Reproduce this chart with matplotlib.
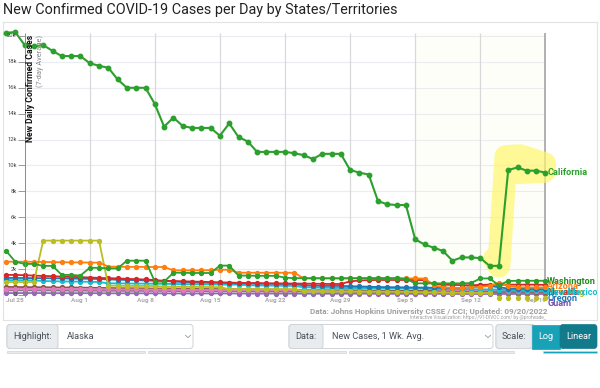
import numpy as np
import pandas as pd
import matplotlib

matplotlib.use("Agg")
import matplotlib.pyplot as plt
import matplotlib.patches as mpatches

plt.rcParams["font.family"] = ["Roboto", "DejaVu Sans"]

# daily 7-day avg new cases, thousands, Jul 23 .. Sep 19 2022
START = "2022-07-23"
california = [20.25, 20.3, 19.3, 19.2, 19.3, 18.85, 18.45, 18.45, 18.45, 17.9,
              17.7, 17.55, 16.65, 16.0, 16.0, 16.0, 14.75, 13.0, 13.7, 13.05,
              12.9, 12.9, 12.9, 12.3, 13.25, 12.2, 11.85, 11.05, 11.05, 11.05,
              11.05, 10.95, 10.8, 10.5, 10.9, 10.9, 10.9, 9.65, 9.45, 9.3,
              7.25, 7.0, 6.95, 6.95, 4.3, 3.9, 3.65, 3.4, 2.65, 2.9,
              2.9, 2.85, 2.25, 2.25, 9.65, 9.85, 9.6, 9.6, 9.45]
washington = [3.42, 2.57, 2.4, 2.4, 2.25, 2.25, 1.55, 1.55, 1.5, 2.1,
              2.1, 2.05, 2.05, 2.65, 2.65, 2.65, 1.03, 1.03, 1.72, 1.72,
              1.7, 1.7, 1.7, 2.27, 2.27, 1.5, 1.5, 1.48, 1.48, 1.48,
              1.34, 1.3, 1.3, 1.3, 1.29, 1.29, 1.29, 1.3, 1.3, 1.3,
              1.3, 1.3, 1.3, 1.25, 0.9, 0.9, 0.9, 0.9, 0.9, 0.9,
              0.92, 1.28, 1.28, 0.75, 1.08, 1.1, 1.1, 1.1, 1.1]
arizona = [2.58, 2.57, 2.57, 2.56, 2.55, 2.54, 2.53, 2.52, 2.52, 2.5,
           2.5, 2.2, 2.18, 2.17, 2.17, 2.17, 2.16, 2.16, 1.9, 1.9,
           1.9, 1.9, 1.92, 1.95, 1.95, 1.72, 1.72, 1.72, 1.72, 1.72,
           1.72, 1.72, 1.28, 1.28, 1.29, 1.29, 1.28, 1.28, 1.29, 1.29,
           1.29, 1.28, 1.28, 1.28, 1.28, 1.27, 0.75, 0.6, 0.55, 0.55,
           0.6, 0.62, 0.7, 0.95, 0.7, 0.6, 0.58, 0.58, 0.58]
wyoming = [1.0, 1.0, 1.0, 1.0, 4.2, 4.2, 4.2, 4.2, 4.2, 4.2,
           4.2, 0.72, 0.72, 0.7, 0.7, 0.7, 0.7, 0.64, 0.64, 0.63,
           0.63, 0.62, 0.62, 0.6, 0.45, 0.45, 0.45, 0.45, 0.45, 0.45,
           0.45, 0.45, 0.3, 0.3, 0.3, 0.28, 0.28, 0.28, 0.27, 0.27,
           0.26, 0.25, 0.25, 0.24, 0.22, 0.2, 0.2, 0.2, 0.18, 0.18,
           0.17, 0.16, 0.15, -0.2, -0.2, -0.2, -0.2, -0.2, -0.2]
nevada = [1.55, 1.55, 1.53, 1.5, 1.47, 1.45, 1.42, 1.4, 1.38, 1.35,
          1.32, 1.3, 1.28, 1.25, 1.22, 1.2, 1.15, 1.1, 1.08, 1.06,
          1.04, 1.02, 1.0, 0.98, 0.96, 0.94, 0.93, 0.92, 0.9, 0.9,
          0.89, 0.88, 0.88, 0.87, 0.86, 0.85, 0.85, 1.05, 1.12, 1.15,
          1.16, 1.16, 1.16, 1.16, 1.16, 1.15, 0.85, 0.8, 0.78, 0.76,
          0.75, 0.78, 0.8, 0.78, 0.8, 0.8, 0.8, 0.8, 0.78]
oregon = [1.32, 1.32, 1.31, 1.3, 1.3, 1.29, 1.28, 1.27, 1.26, 1.25,
          1.24, 1.2, 1.18, 1.16, 1.15, 1.12, 1.1, 1.08, 1.04, 1.0,
          0.98, 0.96, 0.95, 0.94, 0.92, 0.9, 0.89, 0.88, 0.87, 0.86,
          0.85, 0.84, 0.75, 0.72, 0.7, 0.7, 0.7, 0.68, 0.66, 0.64,
          0.62, 0.6, 0.6, 0.58, 0.58, 0.57, 0.56, 0.56, 0.55, 0.55,
          0.6, 0.75, 0.7, 0.6, 0.5, 0.48, 0.47, 0.46, 0.45]
new_mexico = [1.15, 1.15, 1.14, 1.13, 1.08, 1.06, 1.05, 1.04, 1.03, 1.02,
              1.0, 0.9, 0.9, 0.89, 0.88, 0.88, 0.87, 0.86, 0.85, 0.84,
              0.83, 0.82, 0.82, 0.81, 0.8, 0.8, 0.75, 0.74, 0.73, 0.72,
              0.71, 0.7, 0.6, 0.58, 0.56, 0.55, 0.55, 0.55, 0.54, 0.53,
              0.52, 0.52, 0.51, 0.5, 0.5, 0.49, 0.48, 0.47, 0.46, 0.45,
              0.44, 0.44, 0.43, 0.42, 0.4, 0.38, 0.36, 0.35, 0.34]
hawaii = [0.48, 0.48, 0.47, 0.47, 0.46, 0.46, 0.45, 0.45, 0.45, 0.44,
          0.44, 0.44, 0.43, 0.43, 0.43, 0.42, 0.42, 0.42, 0.41, 0.41,
          0.41, 0.4, 0.4, 0.4, 0.4, 0.4, 0.39, 0.39, 0.39, 0.38,
          0.38, 0.38, 0.38, 0.38, 0.38, 0.4, 0.45, 0.55, 0.56, 0.56,
          0.56, 0.56, 0.56, 0.56, 0.55, 0.55, 0.42, 0.4, 0.38, 0.37,
          0.36, 0.36, 0.35, 0.35, 0.34, 0.34, 0.33, 0.33, 0.33]
utah = [0.62, 0.62, 0.61, 0.6, 0.6, 0.59, 0.58, 0.58, 0.57, 0.56,
        0.55, 0.54, 0.53, 0.52, 0.52, 0.51, 0.5, 0.5, 0.49, 0.48,
        0.48, 0.47, 0.46, 0.46, 0.45, 0.44, 0.44, 0.43, 0.42, 0.42,
        0.41, 0.4, 0.4, 0.39, 0.38, 0.38, 0.37, 0.36, 0.36, 0.35,
        0.35, 0.34, 0.34, 0.33, 0.33, 0.32, 0.32, 0.31, 0.31, 0.3,
        0.3, 0.3, 0.29, 0.29, 0.28, 0.28, 0.28, 0.27, 0.27]
idaho = [0.36, 0.36, 0.36, 0.35, 0.35, 0.35, 0.34, 0.34, 0.34, 0.33,
         0.33, 0.33, 0.32, 0.32, 0.32, 0.31, 0.31, 0.31, 0.3, 0.3,
         0.3, 0.3, 0.29, 0.29, 0.29, 0.28, 0.28, 0.28, 0.27, 0.27,
         0.27, 0.26, 0.26, 0.26, 0.25, 0.25, 0.25, 0.24, 0.24, 0.24,
         0.23, 0.23, 0.23, 0.22, 0.22, 0.22, 0.21, 0.21, 0.21, 0.2,
         0.2, 0.2, 0.2, 0.19, 0.19, 0.19, 0.18, 0.18, 0.18]
guam = [0.15, 0.15, 0.15, 0.15, 0.15, 0.14, 0.14, 0.14, 0.14, 0.14,
        0.14, 0.13, 0.13, 0.13, 0.13, 0.13, 0.13, 0.13, 0.12, 0.12,
        0.12, 0.12, 0.12, 0.12, 0.12, 0.11, 0.11, 0.11, 0.11, 0.11,
        0.11, 0.11, 0.1, 0.1, 0.1, 0.1, 0.1, 0.1, 0.1, 0.1,
        0.09, 0.09, 0.09, 0.09, 0.09, 0.09, 0.09, 0.09, 0.08, 0.08,
        0.08, 0.08, 0.08, 0.08, 0.08, 0.08, 0.08, 0.08, 0.08]

# drawing order: bottom first, California on top
series = [
    ("Guam", guam, "#9467bd"),
    ("Idaho", idaho, "#7f7f7f"),
    ("Utah", utah, "#8c564b"),
    ("Hawaii", hawaii, "#e377c2"),
    ("New Mexico", new_mexico, "#17becf"),
    ("Oregon", oregon, "#1f77b4"),
    ("Nevada", nevada, "#d62728"),
    ("Wyoming", wyoming, "#bcbd22"),
    ("Arizona", arizona, "#ff7f0e"),
    ("Washington", washington, "#2ca02c"),
    ("California", california, "#2ca02c"),
]
# end-of-line labels (name, colour, label height in k after collision shifting)
end_labels = [
    ("California", "#2ca02c", 9.45),
    ("Washington", "#1e8c1e", 1.08),
    ("Arizona", "#ff7f0e", 0.62),
    ("Wyoming", "#bcbd22", 0.18),
    ("Nevada", "#d62728", 0.18),
    ("New Mexico", "#17becf", 0.18),
    ("Oregon", "#1f77b4", -0.25),
    ("Guam", "#7b4fb0", -0.64),
]
y_ticks = [0, 2, 4, 6, 8, 10, 12, 14, 16, 18, 20]
# hand-drawn yellow marker stroke (days since start, k cases)
hl_days = [52.5, 53.0, 53.76, 55.3, 57.9, 57.9, 55.2]
hl_vals = [2.78, 2.24, 10.7, 10.75, 10.15, 9.55, 9.45]

dates = pd.date_range(START, periods=len(california))
week_days = list(range(2, len(california), 7))  # Jul 25 ... Sep 19

fig = plt.figure(figsize=(6, 3.88), dpi=100)
W, H = 600, 388

# main chart box (pixel frame 3..597 x 22..320)
ax = fig.add_axes([3 / W, 1 - 320 / H, 594 / W, 298 / H])
ax.set_xlim((3 - 6) / 9.3, (597 - 6) / 9.3)
ax.set_ylim((295 - 320) / 12.95, (295 - 22) / 12.95)
ax.set_xticks([])
ax.set_yticks([])
for s in ax.spines.values():
    s.set_color("#e2e2e2")
    s.set_linewidth(0.8)

y_lo, y_hi = (295 - 297) / 12.95, (295 - 33) / 12.95
last = week_days[-1]
ax.fill_between([44, last], y_lo, y_hi, color="#fefef9", zorder=0, lw=0)
ax.hlines(y_ticks[1:], week_days[0], last, color="#ebebf2", lw=0.8, zorder=1)
ax.vlines(week_days[1:-1], y_lo, y_hi, color="#d9d9d9", lw=0.9, zorder=1)
ax.vlines([last], y_lo, y_hi, color="#b0b0b0", lw=1.4, zorder=1)
ax.vlines([week_days[0]], y_lo, y_hi, color="#8a8a8a", lw=0.7, zorder=6)
ax.hlines(y_ticks, week_days[0] - 0.75, week_days[0], color="#8a8a8a", lw=0.6, zorder=6)
for v in y_ticks:
    ax.text(week_days[0] - 0.85, v, f"{v}k" if v else "0", ha="right", va="center",
            fontsize=4.2, color="#444", zorder=6)

for d in week_days:
    ax.text(d - 1.05, -0.39, dates[d].strftime("%b %-d"), ha="center", va="center",
            fontsize=4.6, color="#a8a8a8", fontweight="bold", zorder=2)

ax.text(2.66, 20.1, "New Daily Confirmed Cases", rotation=90, ha="center", va="top",
        fontsize=6.2, fontweight="bold", color="#111", zorder=7)
ax.text(3.65, 20.1, "(7-day Average)", rotation=90, ha="center", va="top",
        fontsize=5.3, color="#888", zorder=7)

# yellow highlighter
ax.plot(hl_days, hl_vals, color="#fff66e", alpha=0.7, lw=16.5, solid_capstyle="round",
        solid_joinstyle="round", zorder=2)

x = np.arange(len(california))
for i, (name, vals, col) in enumerate(series):
    vals = np.array(vals)
    big = name == "California"
    keep = vals >= 0
    ax.plot(x[keep], vals[keep], color=col, lw=1.5 if big else 1.3, marker="o",
            ms=3.2 if big else 2.8, zorder=3 + i * 0.1)
    if (~keep).any():
        ax.plot(x[~keep], vals[~keep], ls="none", color=col, marker="o", ms=2.8,
                zorder=3 + i * 0.1)

for name, col, yv in end_labels:
    ax.text(58.2, yv, name, color=col, fontsize=6.6, fontweight="bold", ha="left",
            va="center", zorder=8, clip_on=True)

ax.text(58.2, -1.24, "Data: Johns Hopkins University CSSE / CCI; Updated: 09/20/2022",
        ha="right", va="center", fontsize=5.9, color="#a0a0a0", fontweight="bold")
ax.text(58.1, -1.70, "Interactive Visualization: https://91-DIVOC.com/ by @profwade_",
        ha="right", va="center", fontsize=3.4, color="#a0a0a0")

# overlay in pixel units: title and control bar
ui = fig.add_axes([0, 0, 1, 1], zorder=-1)
ui.set_xlim(0, W)
ui.set_ylim(H, 0)
ui.axis("off")
ui.text(3, 10, "New Confirmed COVID-19 Cases per Day by States/Territories",
        ha="left", va="center", fontsize=10.4, color="#222")


def group(x0, x1, x2, y0, y1, label, value=None, chevron=True):
    ui.add_patch(mpatches.FancyBboxPatch((x0, y0), x2 - x0, y1 - y0,
                 boxstyle="round,pad=0,rounding_size=3", fc="white", ec="#ced4da", lw=0.7))
    ui.add_patch(mpatches.FancyBboxPatch((x0, y0), x1 - x0, y1 - y0,
                 boxstyle="round,pad=0,rounding_size=3", fc="#e9ecef", ec="#ced4da", lw=0.7))
    ui.text((x0 + x1) / 2, (y0 + y1) / 2, label, ha="center", va="center",
            fontsize=6.6, color="#495057")
    if value:
        ui.text(x1 + 9, (y0 + y1) / 2, value, ha="left", va="center", fontsize=6.6,
                color="#495057")
    if chevron:
        yc = (y0 + y1) / 2
        ui.plot([x2 - 7.5, x2 - 5, x2 - 2.5], [yc - 1.2, yc + 1.2, yc - 1.2],
                color="#999", lw=0.6)


group(7, 58, 193, 324.5, 348.5, "Highlight:", "Alaska")
group(289, 323, 493, 324.5, 348.5, "Data:", "New Cases, 1 Wk. Avg.")
group(496, 532, 535, 324.5, 348.5, "Scale:", chevron=False)
ui.add_patch(mpatches.Rectangle((532, 324.5), 28, 24, fc="#17a2b8", ec="#17a2b8", lw=0.5))
ui.add_patch(mpatches.FancyBboxPatch((560, 324.5), 37, 24,
             boxstyle="round,pad=0,rounding_size=3", fc="#117a8b", ec="#117a8b", lw=0.5))
ui.text(546, 336.5, "Log", ha="center", va="center", fontsize=6.6, color="white")
ui.text(578.5, 336.5, "Linear", ha="center", va="center", fontsize=6.6, color="white")
# top edge of the next control row
for x0, x1, fc in [(7, 145, "#e9ecef"), (148, 346, "#e9ecef"), (349, 514, "#e9ecef"),
                   (543, 597, "#17a2b8")]:
    ui.add_patch(mpatches.Rectangle((x0, 350.5), x1 - x0, 2.5, fc=fc, ec="#ced4da", lw=0.5))

fig.savefig("out.png", dpi=100)
